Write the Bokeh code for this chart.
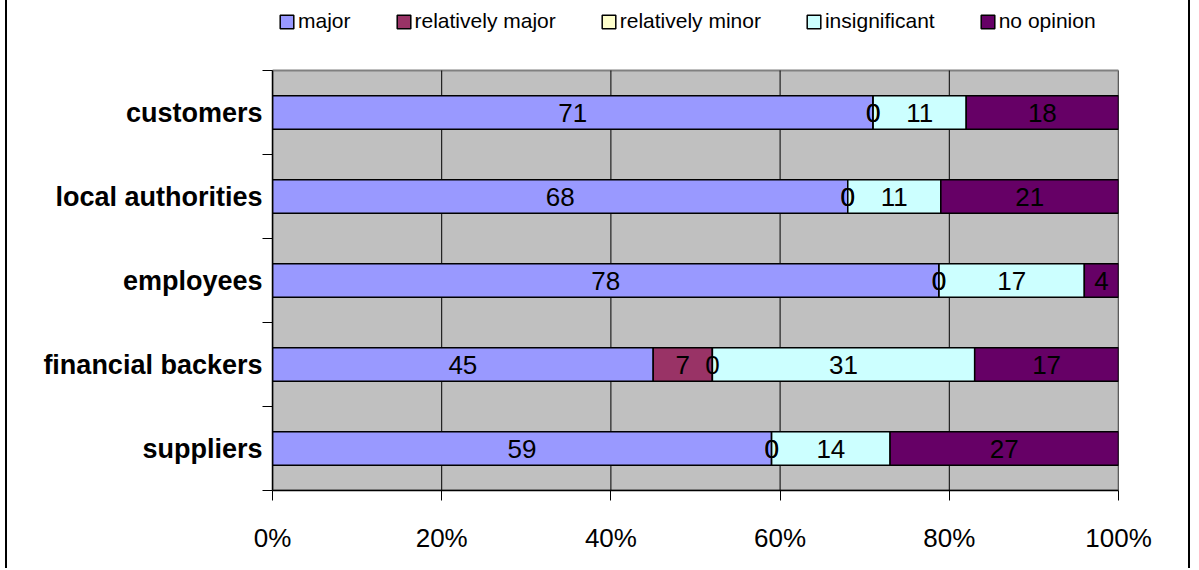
from bokeh.plotting import figure
from bokeh.models import ColumnDataSource, FixedTicker, PrintfTickFormatter, Legend, LegendItem
from bokeh.core.properties import value
from bokeh.embed import file_html
from bokeh.resources import INLINE

# ---- data (top to bottom) ----
categories = ["customers", "local authorities", "employees", "financial backers", "suppliers"]
series_names = ["major", "relatively major", "relatively minor", "insignificant", "no opinion"]
major = [71, 68, 78, 45, 59]
relatively_major = [0, 0, 0, 7, 0]
relatively_minor = [0, 0, 0, 0, 0]
insignificant = [11, 11, 17, 31, 14]
no_opinion = [18, 21, 4, 17, 27]
x_ticks = [0, 20, 40, 60, 80, 100]

colors = ["#9999FF", "#993366", "#FFFFCC", "#CCFFFF", "#660066"]
series = [major, relatively_major, relatively_minor, insignificant, no_opinion]

n = len(categories)
ypos = [n - 0.5 - i for i in range(n)]
totals = [sum(s[i] for s in series) for i in range(n)]

data = {"y": ypos}
keys = []
for k, s in enumerate(series):
    key = "s%d" % k
    keys.append(key)
    data[key] = [s[i] / totals[i] * 100.0 for i in range(n)]
source = ColumnDataSource(data)

FONT = value("Liberation Sans")

# plot area 420 px tall for n bands; 70 px headroom above for the legend
y_top = n * 490.0 / 420.0

p = figure(width=1185, height=568, x_range=(0, 100), y_range=(0, y_top),
           output_backend="svg", toolbar_location=None,
           min_border_left=265, min_border_right=74,
           min_border_top=0, min_border_bottom=78)
p.styles = {"border-left": "2px solid black", "border-right": "2px solid black",
            "margin-left": "5px"}

p.background_fill_color = "white"
p.border_fill_color = "white"
p.outline_line_color = None

# plot-area background and border
p.quad(left=[0], right=[100], bottom=[0], top=[n], fill_color="#C0C0C0",
       line_color="#808080", line_width=2)
# vertical gridlines
p.segment(x0=x_ticks, y0=[0] * len(x_ticks), x1=x_ticks, y1=[n] * len(x_ticks),
          line_color="black", line_width=1)

renderers = p.hbar_stack(keys, y="y", height=0.4, color=colors, line_color="black",
                         line_width=1.5, source=source)

# data labels
lx, ly, lt = [], [], []
for i in range(n):
    left = 0.0
    for k, s in enumerate(series):
        w = data[keys[k]][i]
        lx.append(left + w / 2.0)
        ly.append(ypos[i])
        lt.append(str(s[i]))
        left += w
p.text(x=lx, y=ly, text=lt, text_align="center", text_baseline="middle",
       text_font=FONT, text_font_size="26px", text_color="black")

# x axis
xa = p.xaxis[0]
xa.ticker = FixedTicker(ticks=x_ticks, minor_ticks=[])
xa.formatter = PrintfTickFormatter(format="%d%%")
xa.major_tick_out = 10
xa.major_tick_in = 0
xa.major_tick_line_color = "black"
xa.axis_line_color = "black"
xa.axis_line_width = 1.5
xa.major_label_text_font = "Liberation Sans"
xa.major_label_text_font_size = "26px"
xa.major_label_text_color = "black"
xa.major_label_standoff = 22

# y axis
ya = p.yaxis[0]
ya.bounds = (0, n)
ya.ticker = FixedTicker(ticks=ypos, minor_ticks=list(range(n + 1)))
ya.major_label_overrides = {ypos[i]: categories[i] for i in range(n)}
ya.major_tick_out = 0
ya.major_tick_in = 0
ya.minor_tick_out = 10
ya.minor_tick_in = 0
ya.minor_tick_line_color = "black"
ya.axis_line_color = "black"
ya.axis_line_width = 1.5
ya.major_label_text_font = "Liberation Sans"
ya.major_label_text_font_style = "bold"
ya.major_label_text_font_size = "27px"
ya.major_label_text_color = "black"
ya.major_label_standoff = 0

p.xgrid.grid_line_color = None
p.ygrid.grid_line_color = None

# legend (inside the frame, in the headroom above the plot area)
items = [LegendItem(label=series_names[k], renderers=[renderers[k]]) for k in range(len(series))]
lg = Legend(items=items, orientation="horizontal", location=(6, 457),
            margin=0, padding=0, spacing=44, glyph_width=17, glyph_height=17,
            label_height=22, label_standoff=3,
            label_text_font="Liberation Sans", label_text_font_size="21px",
            label_text_color="black", border_line_color=None,
            background_fill_alpha=0)
p.add_layout(lg, "center")

open("out.html", "w").write(file_html(p, INLINE))
